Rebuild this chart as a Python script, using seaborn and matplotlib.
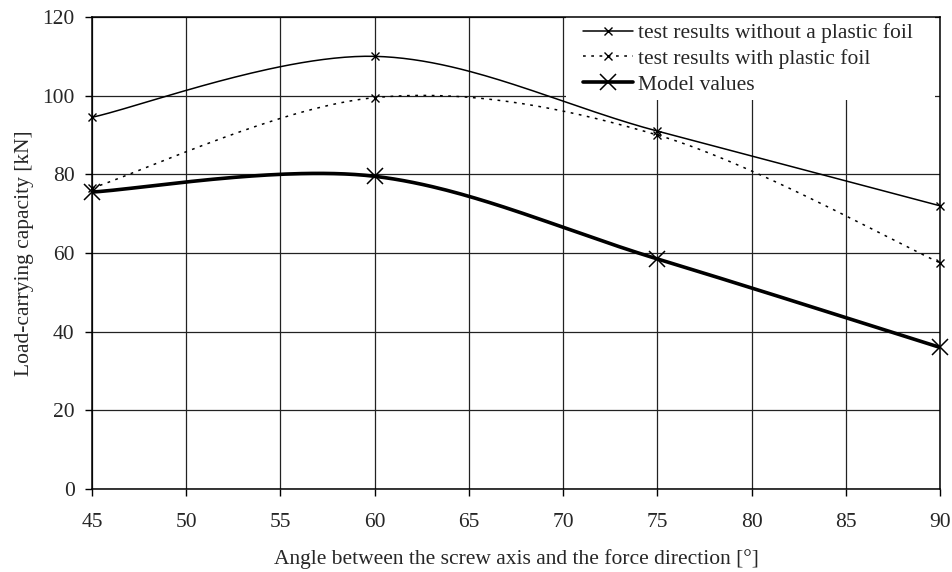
import numpy as np
import pandas as pd
import matplotlib
matplotlib.use("Agg")
import matplotlib.pyplot as plt
import seaborn as sns
from matplotlib.lines import Line2D
from matplotlib.patches import Rectangle

angles = [45, 60, 75, 90]
without_foil = [94.5, 110.0, 91.0, 72.0]
with_foil = [76.5, 99.5, 90.0, 57.5]
model_values = [75.5, 79.5, 58.5, 36.0]
series_names = ["test results without a plastic foil",
                "test results with plastic foil",
                "Model values"]
x_ticks = [45, 50, 55, 60, 65, 70, 75, 80, 85, 90]
y_ticks = [0, 20, 40, 60, 80, 100, 120]


def smooth(xs, ys, n=60):
    """Excel-like smoothed line: cubic Bezier segments through the points."""
    P = np.column_stack([np.asarray(xs, float), np.asarray(ys, float)])
    m = len(P)
    out = []
    for i in range(m - 1):
        p0 = P[i]
        p3 = P[i + 1]
        prev = P[i - 1] if i > 0 else P[i]
        nxt = P[i + 2] if i + 2 < m else P[i + 1]
        c1 = p0 + (p3 - prev) / 6.0
        c2 = p3 - (nxt - p0) / 6.0
        t = np.linspace(0, 1, n)[:, None]
        seg = ((1 - t) ** 3) * p0 + 3 * ((1 - t) ** 2) * t * c1 + 3 * (1 - t) * t ** 2 * c2 + t ** 3 * p3
        if i > 0:
            seg = seg[1:]
        out.append(seg)
    out = np.vstack(out)
    return out[:, 0], out[:, 1]


FS = 15.5
sns.set_style("white")
plt.rcParams["font.family"] = ["Liberation Serif", "DejaVu Serif"]
plt.rcParams["font.size"] = FS

W, H = 953, 572
fig = plt.figure(figsize=(W / 100, H / 100), dpi=100)
ax = fig.add_axes([92 / W, 1 - 489 / H, (940 - 92) / W, (489 - 17) / H])

styles = [
    dict(ls="-", lw=1.1, ms=6, mew=1.0),
    dict(ls=(0, (1.8, 3.6)), lw=1.1, ms=6, mew=1.0),
    dict(ls="-", lw=2.6, ms=11, mew=1.1),
]
series = [without_foil, with_foil, model_values]
handles = []
for name, vals, st in zip(series_names, series, styles):
    sx, sy = smooth(angles, vals)
    df = pd.DataFrame({"x": sx, "y": sy})
    sns.lineplot(data=df, x="x", y="y", ax=ax, sort=False, color="black",
                 linestyle=st["ls"], linewidth=st["lw"], zorder=3)
    ax.plot(angles, vals, linestyle="none", marker="x", color="black",
            markersize=st["ms"], markeredgewidth=st["mew"], zorder=4, clip_on=False)
    handles.append(Line2D([0], [0], color="black", linestyle=st["ls"], linewidth=st["lw"],
                          marker="x", markersize=st["ms"], markeredgewidth=st["mew"]))

ax.set_xlim(45, 90)
ax.set_ylim(0, 120)
ax.set_xticks(x_ticks)
ax.set_yticks(y_ticks)
ax.set_xticklabels([str(v) for v in x_ticks])
ax.set_yticklabels([str(v) for v in y_ticks])
ax.grid(True, color="#222222", linewidth=0.9)
ax.set_axisbelow(True)
for s in ax.spines.values():
    s.set_visible(True)
    s.set_color("black")
    s.set_linewidth(1.1)
    s.set_zorder(6)
ax.tick_params(axis="both", which="major", direction="out", length=5, width=1.0,
               color="black", labelsize=FS, bottom=True, left=True)
ax.tick_params(axis="x", pad=12.5)
ax.tick_params(axis="y", pad=7.5)

ax.set_xlabel("Angle between the screw axis and the force direction [°]", fontsize=FS, labelpad=12)
ax.set_ylabel("Load-carrying capacity [kN]", fontsize=FS, labelpad=6)

# white area behind the legend (covers the gridlines)
ax.add_patch(Rectangle((566 / W, 1 - 100 / H), (935 - 566) / W, (100 - 17) / H,
                       transform=fig.transFigure, facecolor="white", edgecolor="none",
                       zorder=1))

leg = ax.legend(handles=handles, labels=series_names, loc="upper left",
                bbox_to_anchor=(583 / W, 1 - 23 / H), bbox_transform=fig.transFigure,
                frameon=False, fontsize=FS, handlelength=2.3, handletextpad=0.25,
                labelspacing=0.27, borderpad=0.0, borderaxespad=0.0)
leg.set_zorder(7)

fig.savefig("out.png", dpi=100)
